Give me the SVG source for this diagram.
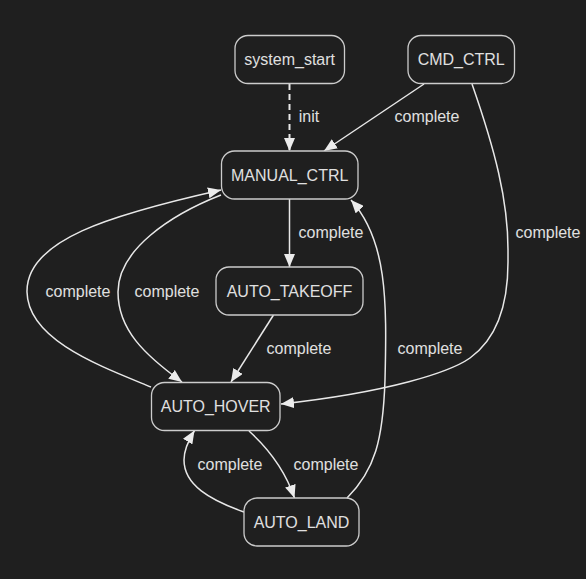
<svg xmlns="http://www.w3.org/2000/svg" width="586" height="579" viewBox="0 0 586 579">
<style>
.bg{fill:#1f1f1f}
.node rect{fill:#1f1f1f;stroke:#cccccc;stroke-width:1.3}
text{font-family:"Liberation Sans",Arial,sans-serif;font-size:16px;fill:#e0e0e0;text-anchor:middle;dominant-baseline:central}
.edge{fill:none;stroke:#e8e8e8;stroke-width:1.5}
.dash{stroke-dasharray:6,4;stroke-width:2}
</style>
<defs>
<marker id="arr" viewBox="0 0 13 11" refX="13" refY="5.5" markerWidth="13" markerHeight="11" markerUnits="userSpaceOnUse" orient="auto">
<path d="M0,0 L13,5.5 L0,11 z" fill="#ececec"/>
</marker>
</defs>
<rect class="bg" x="0" y="0" width="586" height="579"/>
<g id="connectors">
<path class="edge dash" d="M289.5,84 L289.5,151" marker-end="url(#arr)"/>
<path class="edge" d="M424,84 L324,151" marker-end="url(#arr)"/>
<path class="edge" d="M472,84 C495,150 508,200 508,250 L508,262 C508,310 495,340 470,358 C450,372 390,392 281,404" marker-end="url(#arr)"/>
<path class="edge" d="M289.5,199 L289.5,267" marker-end="url(#arr)"/>
<path class="edge" d="M273.5,315 L231,382" marker-end="url(#arr)"/>
<path class="edge" d="M151,387 C100,366 28,340 27,292 C26,240 110,215 221,190" marker-end="url(#arr)"/>
<path class="edge" d="M221,195 C170,215 118,250 118,292 C118,330 145,355 182,382" marker-end="url(#arr)"/>
<path class="edge" d="M347,498 C375,470 383,440 385,380 C387,300 387,240 351,200" marker-end="url(#arr)"/>
<path class="edge" d="M249,431 C270,450 285,470 294.5,498" marker-end="url(#arr)"/>
<path class="edge" d="M244,512 C210,500 184,485 184,460 C184,450 188,441 194.5,430.5" marker-end="url(#arr)"/>
<text x="309" y="116">init</text>
<text x="427" y="116">complete</text>
<text x="548" y="232">complete</text>
<text x="331" y="232">complete</text>
<text x="78" y="291">complete</text>
<text x="167" y="291">complete</text>
<text x="299" y="348">complete</text>
<text x="430" y="348">complete</text>
<text x="230" y="464">complete</text>
<text x="326" y="464">complete</text>
</g>
<g id="system_start" class="node"><rect x="235" y="35.5" width="109.5" height="48" rx="13"/><text x="289.7" y="59.5">system_start</text></g>
<g id="CMD_CTRL" class="node"><rect x="408" y="35.5" width="106.5" height="48" rx="13"/><text x="461.2" y="59.5">CMD_CTRL</text></g>
<g id="MANUAL_CTRL" class="node"><rect x="221.5" y="151" width="136.5" height="48" rx="13"/><text x="289.7" y="175">MANUAL_CTRL</text></g>
<g id="AUTO_TAKEOFF" class="node"><rect x="216" y="267" width="147" height="48" rx="13"/><text x="289.5" y="291">AUTO_TAKEOFF</text></g>
<g id="AUTO_HOVER" class="node"><rect x="151.5" y="382.5" width="128.5" height="48" rx="13"/><text x="215.7" y="406.5">AUTO_HOVER</text></g>
<g id="AUTO_LAND" class="node"><rect x="244" y="498" width="115" height="48" rx="13"/><text x="301.5" y="522">AUTO_LAND</text></g>
</svg>
